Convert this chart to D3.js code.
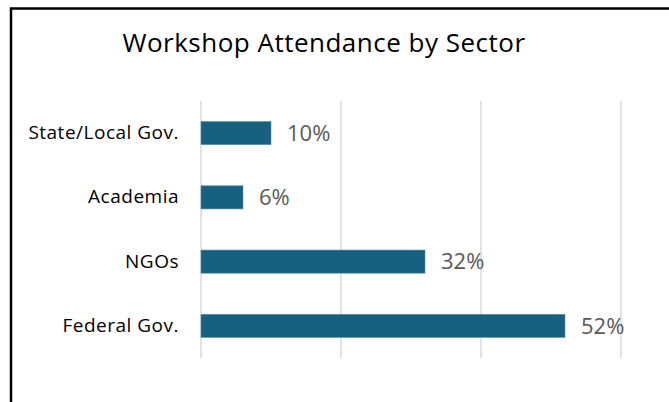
<!DOCTYPE html>
<html>
<head>
<meta charset="utf-8">
<script src="https://cdn.jsdelivr.net/npm/d3@7"></script>
<style>
  body { margin: 0; background: #fff; }
  .chart text { font-family: "Open Sans", "Liberation Sans", Arial, sans-serif; }
</style>
</head>
<body>
<div class="chart"></div>
<script>
const sectors = ['State/Local Gov.', 'Academia', 'NGOs', 'Federal Gov.'];
const shares = [10, 6, 32, 52];
const ticks = [0, 20, 40, 60];

const W = 669, H = 402;
const margin = {top: 101, left: 201, bottom: 44, right: 48};
const width = W - margin.left - margin.right;
const height = H - margin.top - margin.bottom;

const root = d3.select('.chart')
    .append('svg')
    .attr('width', W)
    .attr('height', H);

// frame (only left + top edges are visible in the crop)
root.append('path')
    .attr('d', `M11,${H} L11,8.5 L${W},8.5`)
    .attr('fill', 'none')
    .attr('stroke', '#000')
    .attr('stroke-width', 2.5);

root.append('text')
    .attr('x', 324)
    .attr('y', 52)
    .attr('text-anchor', 'middle')
    .attr('font-size', 26)
    .attr('letter-spacing', 0.5)
    .attr('fill', '#000')
    .text('Workshop Attendance by Sector');

const svg = root.append('g')
    .attr('transform', 'translate('+margin.left+','+margin.top+')');

const xScale = d3.scaleLinear()
    .domain([0, 60])
    .range([0, width]);

const yScale = d3.scaleBand()
    .domain(sectors)
    .range([0, height])
    .paddingInner(0.64)
    .paddingOuter(0.32);

// gridlines
svg.append('g')
    .attr('class', 'grid')
    .selectAll('line')
    .data(ticks)
    .enter()
    .append('line')
    .attr('x1', d => xScale(d))
    .attr('x2', d => xScale(d))
    .attr('y1', 0)
    .attr('y2', height)
    .attr('stroke', '#d9d9d9')
    .attr('stroke-width', 1.5);

const yAxis = d3.axisLeft(yScale).tickSize(0).tickPadding(22);
svg.append('g')
    .attr('class', 'y-axis')
    .call(yAxis)
    .call(g => g.select('.domain').remove())
    .selectAll('text')
    .attr('font-size', 19)
    .attr('letter-spacing', 0.5)
    .attr('fill', '#000');

const rows = sectors.map((s, i) => ({sector: s, value: shares[i]}));

svg.selectAll('.bars')
    .data(rows)
    .enter()
    .append('rect')
    .attr('class', 'bars')
    .attr('x', xScale(0))
    .attr('y', d => yScale(d.sector))
    .attr('width', d => xScale(d.value) - xScale(0))
    .attr('height', yScale.bandwidth())
    .attr('fill', '#17607f')
    .attr('stroke', '#5b8fa8')
    .attr('stroke-width', 0.6);

svg.selectAll('.labels')
    .data(rows)
    .enter()
    .append('text')
    .attr('class', 'labels')
    .attr('x', d => xScale(d.value) + 16)
    .attr('y', d => yScale(d.sector) + yScale.bandwidth() / 2)
    .attr('dy', '0.35em')
    .attr('font-size', 22)
    .attr('fill', '#595959')
    .text(d => d.value + '%');
</script>
</body>
</html>
